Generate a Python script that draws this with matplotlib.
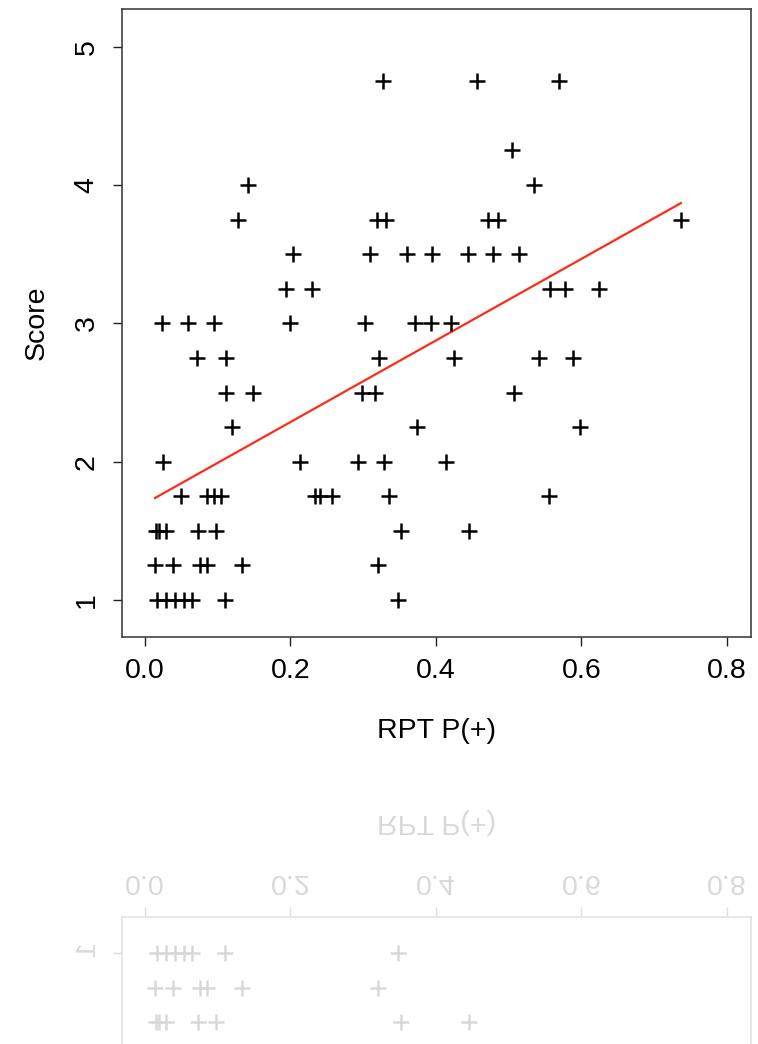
import matplotlib
matplotlib.use("Agg")
import matplotlib.pyplot as plt
import numpy as np

plt.rcParams['font.family'] = ['Liberation Sans', 'DejaVu Sans']

# RPT P(+) values, one line per score level
rpt = [0.0158, 0.0289, 0.0413, 0.0530, 0.0646, 0.110, 0.348,
       0.0138, 0.0389, 0.0757, 0.0849, 0.133, 0.320,
       0.0144, 0.0193, 0.0289, 0.0722, 0.097, 0.352, 0.446,
       0.0495, 0.0849, 0.0949, 0.104, 0.234, 0.240, 0.257, 0.336, 0.556,
       0.0252, 0.213, 0.293, 0.329, 0.414,
       0.119, 0.374, 0.598,
       0.111, 0.148, 0.299, 0.316, 0.507,
       0.0719, 0.111, 0.322, 0.425, 0.542, 0.589,
       0.023, 0.0596, 0.0953, 0.199, 0.303, 0.371, 0.393, 0.421,
       0.194, 0.229, 0.557, 0.578, 0.624,
       0.203, 0.310, 0.360, 0.394, 0.444, 0.479, 0.515,
       0.128, 0.319, 0.332, 0.471, 0.486, 0.737,
       0.141, 0.535,
       0.505,
       0.327, 0.456, 0.569]
score = [1]*7 + [1.25]*6 + [1.5]*7 + [1.75]*9 + [2]*5 + [2.25]*3 + [2.5]*5 + \
        [2.75]*6 + [3]*8 + [3.25]*5 + [3.5]*7 + [3.75]*6 + [4]*2 + [4.25]*1 + [4.75]*3
xticks = [0.0, 0.2, 0.4, 0.6, 0.8]
yticks = [1, 2, 3, 4, 5]

x = np.array(rpt)
y = np.array(score)

fig = plt.figure(figsize=(7.58, 10.44), dpi=100)
ax = fig.add_axes([0.1616, 0.3898, 0.8288, 0.6012])

ax.plot(x, y, '+', color='black', markersize=11.5, markeredgewidth=1.8, zorder=3)

# least squares fit over the data range
slope, icept = np.polyfit(x, y, 1)
xl = np.array([x.min(), x.max()])
ax.plot(xl, icept + slope * xl, '-', color='#ff2a1a', lw=1.6, zorder=2)

ax.set_xlim(-0.031, 0.833)
ax.set_ylim(0.732, 5.27)
ax.set_xticks(xticks)
ax.set_xticklabels(['%.1f' % t for t in xticks])
ax.set_yticks(yticks)
ax.set_yticklabels([str(t) for t in yticks], rotation=90, va='center')
ax.tick_params(direction='out', length=6.5, width=1, colors='#222222',
               labelsize=20.5, labelcolor='black')
ax.tick_params(axis='x', pad=8.5)
ax.tick_params(axis='y', pad=10)
for s in ax.spines.values():
    s.set_color('#333333')
    s.set_linewidth(1.1)

ax.set_xlabel('RPT P(+)', fontsize=20.5, va='center')
ax.xaxis.set_label_coords(0.5, -0.1498)
ax.set_ylabel('Score', fontsize=20.5, va='center')
ax.yaxis.set_label_coords(-0.136, 0.5)

# faded mirror reflection under the chart
fig.canvas.draw()
img = np.asarray(fig.canvas.buffer_rgba())[:, :, :3].astype(float)
mirror = 777
h = img.shape[0] - mirror
src = img[mirror - h:mirror][::-1]
alpha = 0.15
refl = 255 - (255 - src) * alpha
fig.figimage(refl.astype(np.uint8), xo=0, yo=0, origin='upper', zorder=0)

fig.savefig('out.png', dpi=100)
